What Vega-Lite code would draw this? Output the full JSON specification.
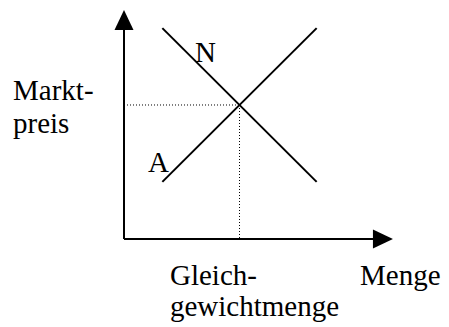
{
  "$schema": "https://vega.github.io/schema/vega-lite/v6.json",
  "width": 449,
  "height": 327,
  "autosize": {"type": "fit", "contains": "padding"},
  "padding": 0,
  "background": "white",
  "config": {"view": {"stroke": null}},
  "datasets": {
    "curves": [
      {"curve": "N", "q": 1.66, "p": 7.87},
      {"curve": "N", "q": 8.34, "p": 2.13},
      {"curve": "A", "q": 1.66, "p": 2.13},
      {"curve": "A", "q": 8.34, "p": 7.87},
      {"curve": "yaxis", "q": 0, "p": 0},
      {"curve": "yaxis", "q": 0, "p": 8.0},
      {"curve": "xaxis", "q": 0, "p": 0},
      {"curve": "xaxis", "q": 11.0, "p": 0}
    ],
    "guides": [
      {"guide": "h", "q": 0.13, "p": 5.0},
      {"guide": "h", "q": 5.0, "p": 5.0},
      {"guide": "v", "q": 5.0, "p": 5.0},
      {"guide": "v", "q": 5.0, "p": 0.0}
    ],
    "arrows": [
      {"axis": "y", "q": 0, "p": 8.172},
      {"axis": "x", "q": 11.21, "p": 0}
    ],
    "labels": [
      {"label": "Markt-", "q": -4.805, "p": 5.187},
      {"label": "preis", "q": -4.805, "p": 3.955},
      {"label": "Gleich-", "q": 1.99, "p": -1.716},
      {"label": "gewichtmenge", "q": 1.99, "p": -2.89},
      {"label": "Menge", "q": 10.216, "p": -1.716},
      {"label": "N", "q": 3.074, "p": 6.604},
      {"label": "A", "q": 1.039, "p": 2.5}
    ]
  },
  "layer": [
    {
      "data": {"name": "guides"},
      "mark": {"type": "line", "color": "black", "strokeWidth": 1, "strokeDash": [1, 2]},
      "encoding": {
        "x": {"field": "q", "type": "quantitative", "scale": {"domain": [-5.368, 14.069], "nice": false, "zero": false}, "axis": null},
        "y": {"field": "p", "type": "quantitative", "scale": {"domain": [-3.284, 8.918], "nice": false, "zero": false}, "axis": null},
        "detail": {"field": "guide"}
      }
    },
    {
      "data": {"name": "curves"},
      "mark": {"type": "line", "color": "black", "strokeWidth": 2},
      "encoding": {
        "x": {"field": "q", "type": "quantitative"},
        "y": {"field": "p", "type": "quantitative"},
        "detail": {"field": "curve"}
      }
    },
    {
      "data": {"name": "arrows"},
      "mark": {"type": "point", "filled": true, "color": "black", "opacity": 1, "size": 400, "strokeWidth": 0},
      "encoding": {
        "x": {"field": "q", "type": "quantitative"},
        "y": {"field": "p", "type": "quantitative"},
        "shape": {
          "field": "axis",
          "type": "nominal",
          "scale": {"domain": ["y", "x"], "range": ["M-0.95,1L0,-1L0.95,1Z", "M-1,-0.95L1,0L-1,0.95Z"]},
          "legend": null
        }
      }
    },
    {
      "data": {"name": "labels"},
      "mark": {"type": "text", "align": "left", "baseline": "alphabetic", "font": "Liberation Serif", "fontSize": 29, "color": "black"},
      "encoding": {
        "x": {"field": "q", "type": "quantitative"},
        "y": {"field": "p", "type": "quantitative"},
        "text": {"field": "label"}
      }
    }
  ]
}
